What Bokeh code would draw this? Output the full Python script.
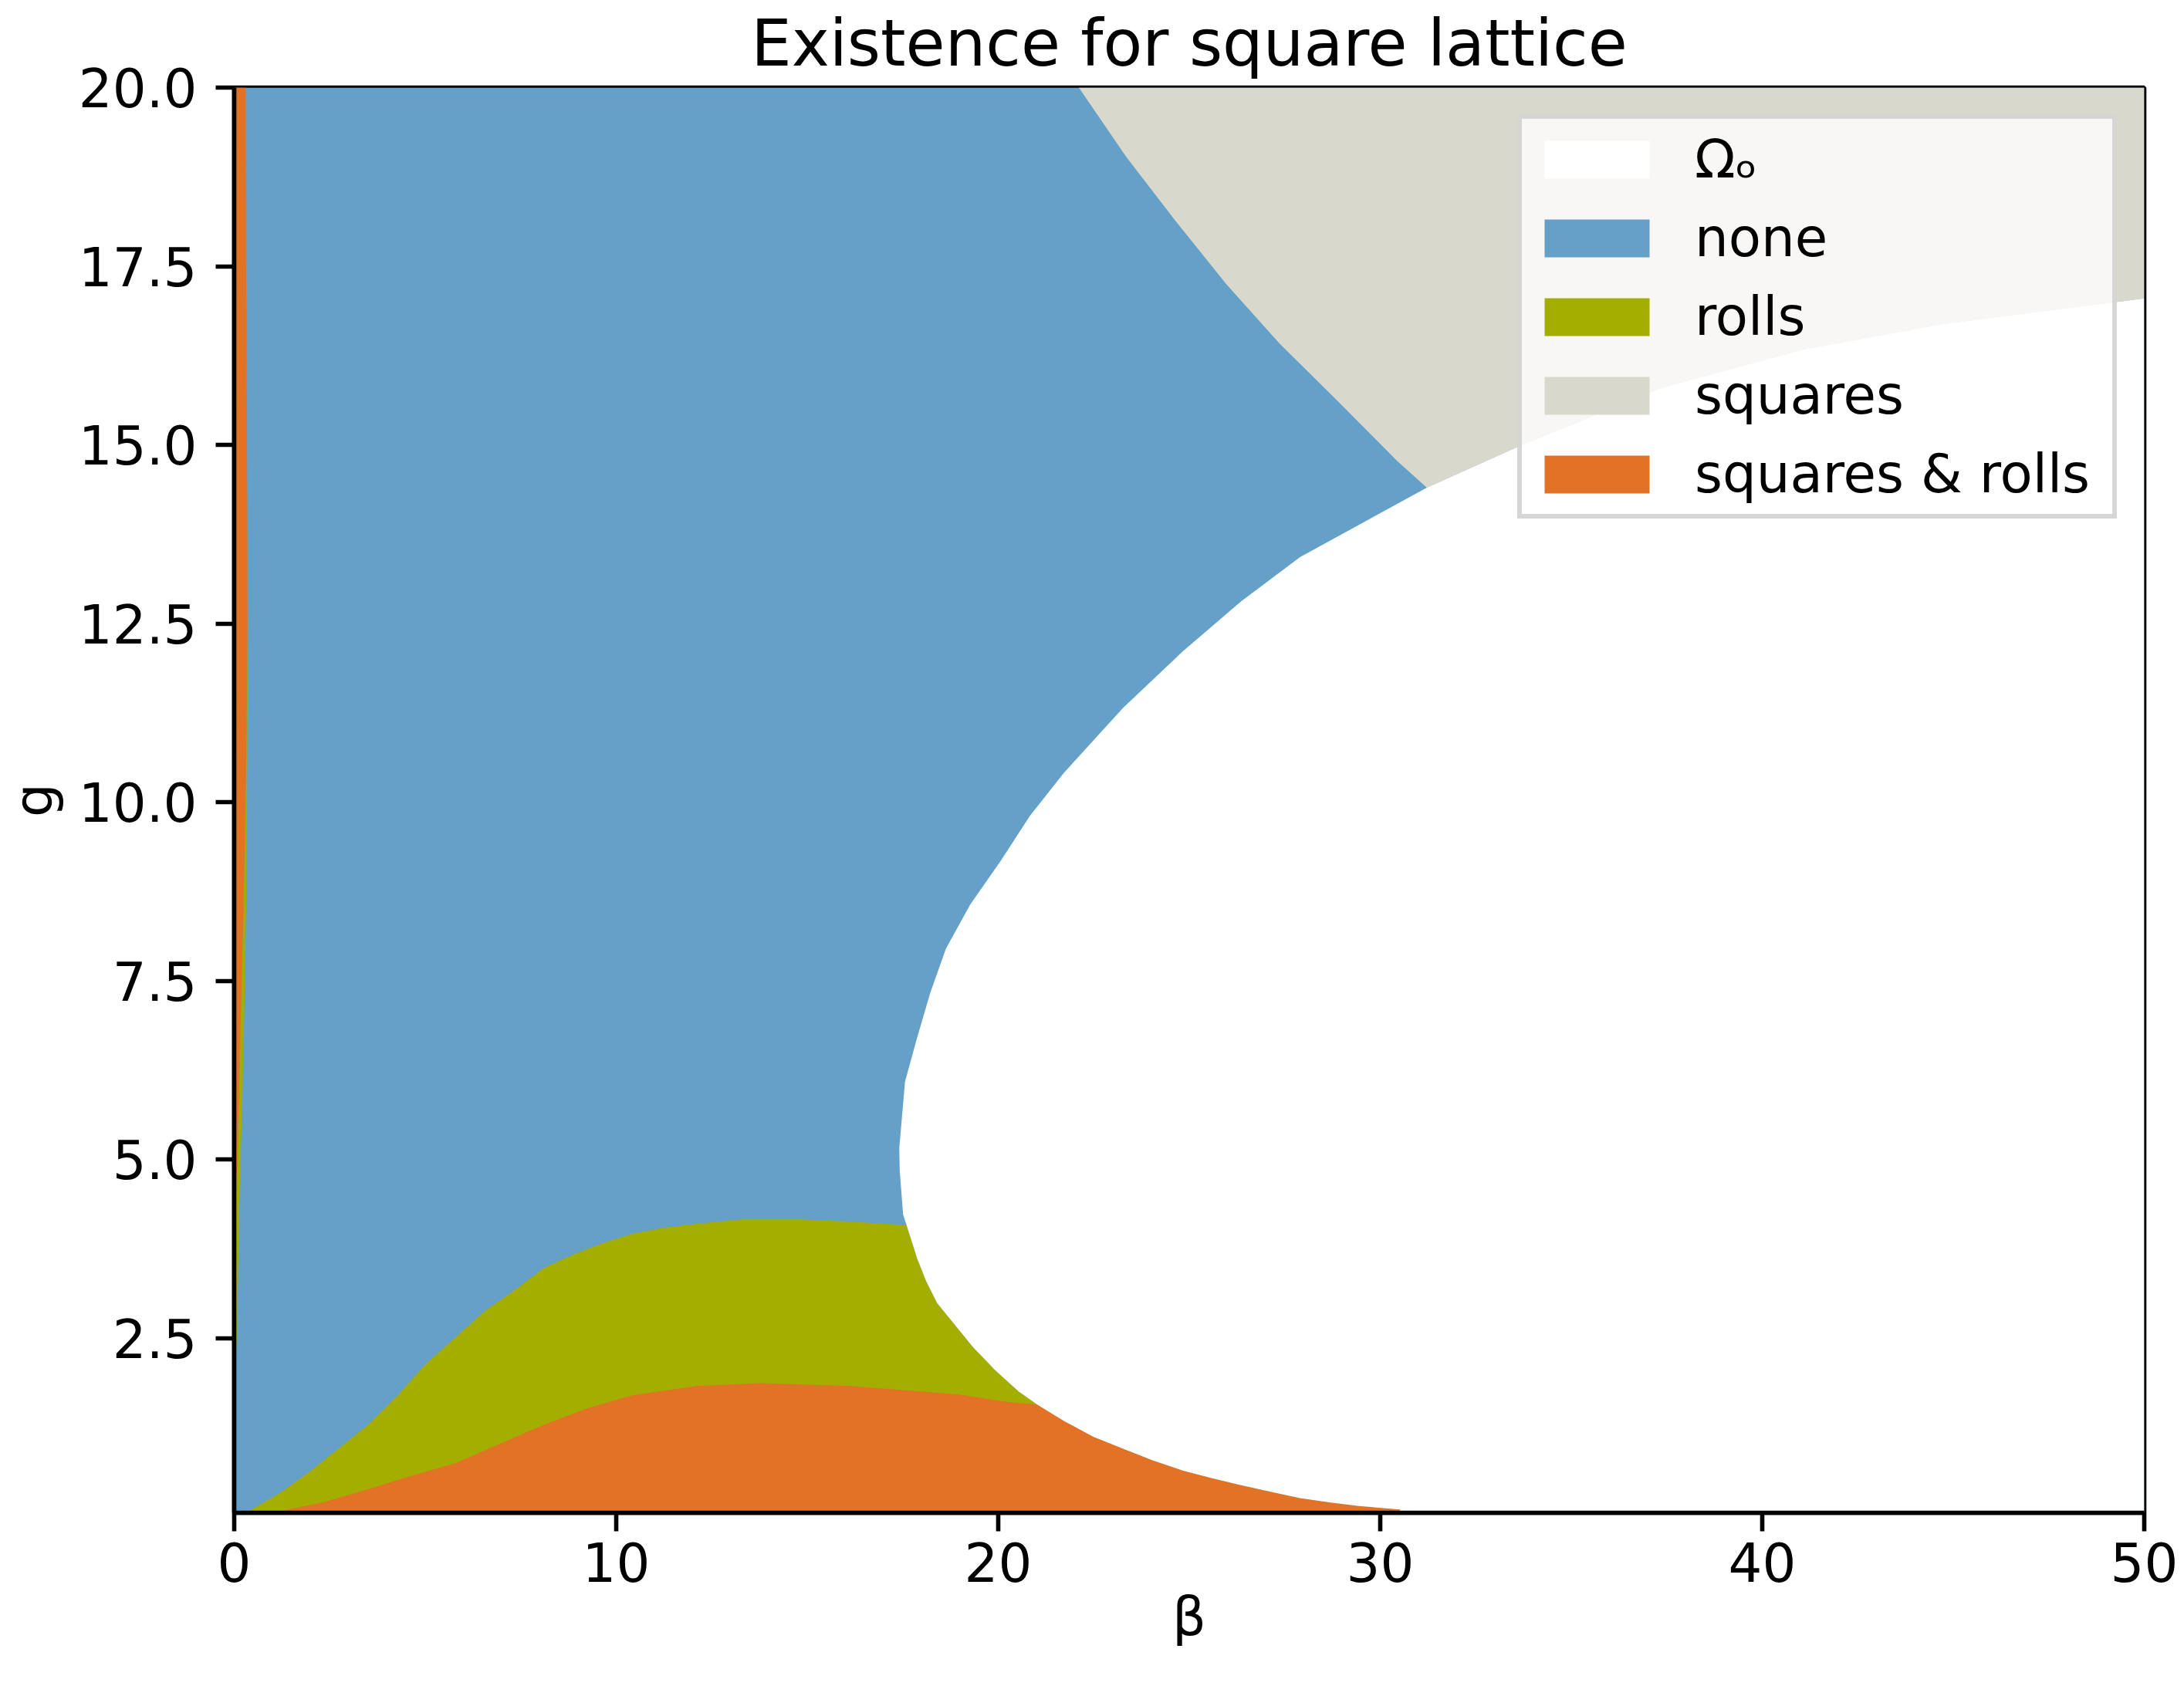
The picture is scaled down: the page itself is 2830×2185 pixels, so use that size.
from bokeh.plotting import figure
from bokeh.models import Range1d, FixedTicker, PrintfTickFormatter, Legend, LegendItem
from bokeh.embed import file_html
from bokeh.resources import INLINE

# ---------------- data ----------------
beta_range = (0.0, 50.0)
g_range = (0.055, 20.0)

# boundary of Omega_o (tail on the beta axis -> vertex -> right edge)
omega_beta = [30.52, 29.44, 28.67, 27.90, 27.13, 26.36, 25.58, 24.81, 24.04, 23.27,
              22.49, 21.72, 21.02, 20.54, 19.90, 19.33, 18.40, 18.11, 17.88, 17.60,
              17.51, 17.42, 17.41, 17.56, 17.88, 18.22, 18.63, 19.27, 20.08, 20.83,
              21.72, 23.27, 24.81, 26.36, 27.90, 29.44, 31.22, 33.50, 37.39,
              41.06, 44.73, 50.00]
omega_g = [0.10, 0.15, 0.20, 0.26, 0.35, 0.44, 0.54, 0.65, 0.79, 0.95,
           1.12, 1.34, 1.57, 1.75, 2.06, 2.38, 2.99, 3.30, 3.61, 4.08,
           4.23, 4.85, 5.16, 6.09, 6.71, 7.33, 7.95, 8.57, 9.19, 9.81,
           10.41, 11.32, 12.10, 12.81, 13.43, 13.88, 14.40, 14.95, 15.80,
           16.33, 16.69, 17.05]

# squares / none boundary (top edge -> Omega_o)
squares_beta = [22.11, 23.35, 24.66, 25.97, 27.36, 28.91, 30.45, 31.22]
squares_g = [20.00, 19.03, 18.12, 17.25, 16.42, 15.60, 14.77, 14.40]

# rolls / none boundary
rolls_beta = [0.42, 1.16, 1.93, 2.70, 3.47, 4.25, 5.02, 5.79, 6.56, 7.34,
              8.11, 8.88, 9.65, 10.42, 11.20, 12.10, 13.30, 14.83, 16.14, 17.60]
rolls_g = [0.09, 0.32, 0.61, 0.94, 1.27, 1.68, 2.14, 2.51, 2.88, 3.17,
           3.48, 3.67, 3.83, 3.96, 4.04, 4.10, 4.16, 4.16, 4.13, 4.08]

# squares & rolls / rolls boundary
sr_beta = [1.31, 2.32, 3.47, 4.63, 5.79, 6.95, 8.11, 9.27, 10.42, 12.10,
           13.73, 16.14, 18.99, 20.18, 21.02]
sr_g = [0.09, 0.20, 0.38, 0.57, 0.75, 1.02, 1.29, 1.52, 1.70, 1.83,
        1.87, 1.83, 1.71, 1.61, 1.57]

# thin strip along beta ~ 0
strip_g = [20.0, 17.5, 14.5, 12.5, 10.4, 8.5, 7.2, 5.8, 4.5, 3.4, 2.5, 1.8]
strip_sr_beta = [0.30, 0.31, 0.34, 0.35, 0.31, 0.24, 0.18, 0.12, 0.05, 0.0, 0.0, 0.0]
strip_rolls_beta = [0.30, 0.31, 0.34, 0.36, 0.34, 0.31, 0.27, 0.21, 0.14, 0.10, 0.07, 0.0]

x_ticks = [0, 10, 20, 30, 40, 50]
y_ticks = [2.5, 5.0, 7.5, 10.0, 12.5, 15.0, 17.5, 20.0]

labels = ["Ωₒ", "none", "rolls", "squares", "squares & rolls"]
colors = {"omega": "#ffffff", "none": "#64a0c8", "rolls": "#a3ae00",
          "squares": "#d9d8cc", "sr": "#e27326"}

title_text = "Existence for square lattice"
FONT = "DejaVu Sans"

# ---------------- polygons built from the boundaries ----------------
b0, b1 = beta_range
g0, g1 = g_range


def omega_index(b, g):
    for i, (x, y) in enumerate(zip(omega_beta, omega_g)):
        if abs(x - b) < 1e-9 and abs(y - g) < 1e-9:
            return i
    raise ValueError


jr = omega_index(rolls_beta[-1], rolls_g[-1])
js = omega_index(sr_beta[-1], sr_g[-1])
jq = omega_index(squares_beta[-1], squares_g[-1])

rolls_x = rolls_beta + omega_beta[jr - 1::-1] + [omega_beta[0], rolls_beta[0]]
rolls_y = rolls_g + omega_g[jr - 1::-1] + [g0, g0]

sr_x = sr_beta + omega_beta[js - 1::-1] + [omega_beta[0], sr_beta[0]]
sr_y = sr_g + omega_g[js - 1::-1] + [g0, g0]

sq_x = squares_beta + omega_beta[jq + 1:] + [b1]
sq_y = squares_g + omega_g[jq + 1:] + [g1]

om_x = omega_beta + [b1, omega_beta[0]]
om_y = omega_g + [g0, g0]

strip_sr_x = [b0] * len(strip_g) + strip_sr_beta[::-1]
strip_sr_y = strip_g + strip_g[::-1]
strip_r_x = strip_sr_beta + strip_rolls_beta[::-1]
strip_r_y = strip_g + strip_g[::-1]

# ---------------- figure ----------------
p = figure(width=2822, height=2180,
           x_range=Range1d(b0, b1), y_range=Range1d(g0, g1),
           output_backend="svg", toolbar_location=None,
           min_border_left=300, min_border_right=44,
           min_border_top=113, min_border_bottom=220)
p.background_fill_color = "white"
p.border_fill_color = "white"
p.xgrid.visible = False
p.ygrid.visible = False
p.outline_line_color = "black"
p.outline_line_width = 5.6

r_none = p.quad(left=[b0], right=[b1], bottom=[g0], top=[g1],
                fill_color=colors["none"], line_color=None)
r_sq = p.patch(sq_x, sq_y, fill_color=colors["squares"], line_color=None)
r_rolls = p.patch(rolls_x, rolls_y, fill_color=colors["rolls"], line_color=None)
r_sr = p.patch(sr_x, sr_y, fill_color=colors["sr"], line_color=None)
p.patch(strip_r_x, strip_r_y, fill_color=colors["rolls"], line_color=None)
p.patch(strip_sr_x, strip_sr_y, fill_color=colors["sr"], line_color=None)
r_om = p.patch(om_x, om_y, fill_color=colors["omega"], line_color=None)

# axes
for ax in (p.xaxis[0], p.yaxis[0]):
    ax.axis_line_width = 5.6
    ax.axis_line_color = "black"
    ax.major_tick_line_width = 5.6
    ax.major_tick_line_color = "black"
    ax.major_tick_out = 24
    ax.major_tick_in = 0
    ax.minor_tick_out = 0
    ax.minor_tick_in = 0
    ax.major_label_text_font = FONT
    ax.major_label_text_font_size = "69px"
    ax.major_label_text_color = "black"
    ax.axis_label_text_font = FONT
    ax.axis_label_text_font_size = "69px"
    ax.axis_label_text_font_style = "normal"
    ax.axis_label_text_color = "black"

p.xaxis.ticker = FixedTicker(ticks=x_ticks)
p.xaxis.formatter = PrintfTickFormatter(format="%d")
p.yaxis.ticker = FixedTicker(ticks=y_ticks)
p.yaxis.formatter = PrintfTickFormatter(format="%.1f")
p.xaxis.axis_label = "β"
p.yaxis.axis_label = "g"
p.xaxis.major_label_standoff = 14
p.xaxis.axis_label_standoff = 2
p.yaxis.major_label_standoff = 24
p.yaxis.axis_label_standoff = 15

# title
p.title.text = title_text
p.title.align = "center"
p.title.vertical_align = "top"
p.title.text_font = FONT
p.title.text_font_size = "83px"
p.title.text_font_style = "normal"
p.title.text_color = "black"
p.title.standoff = 14

# legend
legend = Legend(items=[
    LegendItem(label=labels[0], renderers=[r_om]),
    LegendItem(label=labels[1], renderers=[r_none]),
    LegendItem(label=labels[2], renderers=[r_rolls]),
    LegendItem(label=labels[3], renderers=[r_sq]),
    LegendItem(label=labels[4], renderers=[r_sr]),
], location="top_right")
legend.label_text_font = FONT
legend.label_text_font_size = "69px"
legend.label_text_color = "black"
legend.glyph_width = 170
legend.glyph_height = 61
legend.label_height = 54
legend.label_width = 529
legend.label_standoff = 42
legend.spacing = 22
legend.padding = 12
legend.margin = 35
legend.border_line_color = "#cccccc"
legend.border_line_width = 6
legend.border_line_alpha = 0.8
legend.background_fill_color = "white"
legend.background_fill_alpha = 0.8
p.add_layout(legend)

open("out.html", "w").write(file_html(p, INLINE))
